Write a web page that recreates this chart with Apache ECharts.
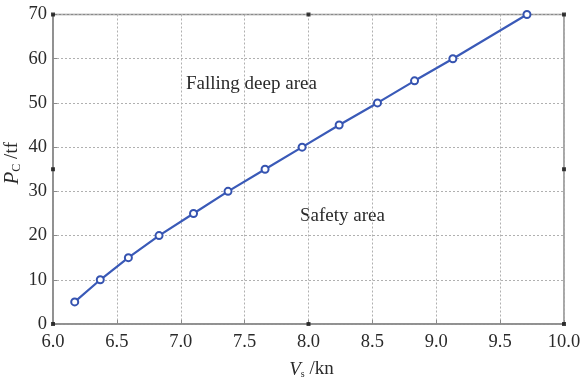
<!DOCTYPE html>
<html><head><meta charset="utf-8">
<script src="https://cdn.jsdelivr.net/npm/echarts@6/dist/echarts.min.js"></script>
<style>html,body{margin:0;padding:0;background:#fff}#c{width:580px;height:382px}</style>
</head><body><div id="c"></div>
<script>
const speedVs = [6.17, 6.37, 6.59, 6.83, 7.10, 7.37, 7.66, 7.95, 8.24, 8.54, 8.83, 9.13, 9.71];
const forcePc = [5, 10, 15, 20, 25, 30, 35, 40, 45, 50, 55, 60, 70];
const xTicks = [6.0, 6.5, 7.0, 7.5, 8.0, 8.5, 9.0, 9.5, 10.0];
const yTicks = [0, 10, 20, 30, 40, 50, 60, 70];
const regionLabels = ['Falling deep area', 'Safety area'];
const frameDotsX = [6, 8, 10, 6, 8, 10, 6, 10];
const frameDotsY = [0, 0, 0, 70, 70, 70, 35, 35];

const font = 'Liberation Serif, DejaVu Serif, serif';
const chart = echarts.init(document.getElementById('c'), null, {renderer: 'canvas'});
const axisCol = '#8a8a8a';
const txt = '#2a2a2a';
chart.setOption({
  animation: false,
  backgroundColor: '#fff',
  grid: {left: 53, right: 16, top: 14.5, bottom: 58, outerBoundsMode: 'none', containLabel: false,
         show: true, borderColor: axisCol, borderWidth: 1.5},
  xAxis: {
    type: 'value', min: 6, max: 10, interval: 0.5,
    name: '{i|V}{s|s}{n| /kn}', nameLocation: 'middle', nameGap: 36, nameMoveOverlap: false,
    nameTextStyle: {padding: [0, 0, 0, 6], rich: {
      i: {fontFamily: font, fontStyle: 'italic', fontSize: 19, color: txt},
      s: {fontFamily: font, fontSize: 10, color: txt, verticalAlign: 'bottom', padding: [8,0,0,0]},
      n: {fontFamily: font, fontSize: 19, color: txt}
    }},
    axisLine: {show: true, lineStyle: {color: axisCol, width: 1.5}},
    axisTick: {show: true, inside: true, length: 4, lineStyle: {color: axisCol}},
    axisLabel: {fontFamily: font, fontSize: 18.5, color: txt, margin: 9,
      formatter: v => v.toFixed(1)},
    splitLine: {show: true, lineStyle: {color: '#b0b0b0', type: [2, 2], width: 1}}
  },
  yAxis: {
    type: 'value', min: 0, max: 70, interval: 10,
    name: '{i|P}{s|C}{n| /tf}', nameLocation: 'middle', nameGap: 30, nameRotate: 90, nameMoveOverlap: false,
    nameTextStyle: {padding: [0, 0, 0, 12], rich: {
      i: {fontFamily: font, fontStyle: 'italic', fontSize: 21, color: txt},
      s: {fontFamily: font, fontSize: 12, color: txt, verticalAlign: 'bottom', padding: [8,0,0,0]},
      n: {fontFamily: font, fontSize: 19, color: txt}
    }},
    axisLine: {show: true, lineStyle: {color: axisCol, width: 1.5}},
    axisTick: {show: true, inside: true, length: 4, lineStyle: {color: axisCol}},
    axisLabel: {fontFamily: font, fontSize: 18.5, color: txt, margin: 6},
    splitLine: {show: true, lineStyle: {color: '#b0b0b0', type: [2, 2], width: 1}}
  },
  series: [{
    type: 'line',
    data: speedVs.map((v, i) => [v, forcePc[i]]),
    symbol: 'emptyCircle', symbolSize: 7,
    lineStyle: {color: '#3a5ab8', width: 2.2},
    itemStyle: {color: '#3553b0', borderWidth: 1.8},
    z: 3
  }, {
    type: 'scatter',
    data: frameDotsX.map((v, i) => [v, frameDotsY[i]]),
    symbol: 'rect', symbolSize: 4,
    itemStyle: {color: '#111'},
    clip: false, silent: true, z: 4
  }],
  graphic: [
    {type: 'text', left: 186, top: 75, style: {text: regionLabels[0], font: '19px ' + font, fill: txt}},
    {type: 'text', left: 300, top: 207, style: {text: regionLabels[1], font: '19px ' + font, fill: txt}}
  ]
});
</script></body></html>
